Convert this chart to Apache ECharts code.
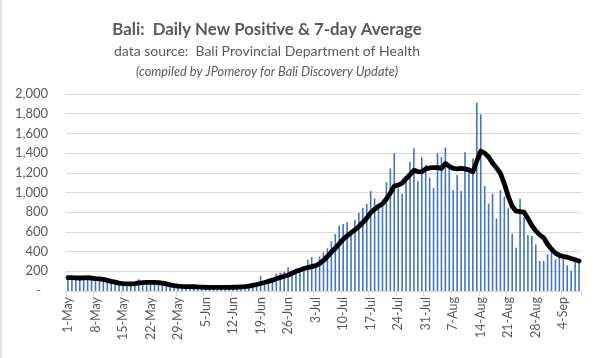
<!DOCTYPE html>
<html>
<head>
<meta charset="utf-8">
<script src="https://cdn.jsdelivr.net/npm/echarts@6/dist/echarts.min.js"></script>
<style>
html,body{margin:0;padding:0;background:#fff;}
#chart{width:599px;height:358px;}
</style>
</head>
<body>
<div id="chart"></div>
<script>
// Category labels: 1-May .. 8-Sep (one per day)
var months = [['May', 31], ['Jun', 30], ['Jul', 31], ['Aug', 31], ['Sep', 8]];
var dates = [];
months.forEach(function (m) { for (var d = 1; d <= m[1]; d++) dates.push(d + '-' + m[0]); });

// Daily new positive cases
var dailyCases = [
  140,128,135,120,145,138,132,118,125,110,95,88,80,70,65,75,70,82,120,85,
  90,80,88,75,65,60,50,48,45,50,42,40,48,38,36,35,40,32,38,45,
  40,36,44,48,50,55,62,75,60,152,95,78,118,179,186,196,240,196,205,215,
  225,315,345,255,350,392,433,505,578,665,680,700,620,720,792,842,883,1015,940,840,
  900,1105,1245,1398,1040,985,1110,1312,1450,1118,1357,1279,1150,1045,1398,1360,1459,1290,1025,1178,
  1015,1408,1250,1345,1912,1794,1066,888,988,735,1025,958,839,582,440,936,750,569,558,475,
  306,306,374,404,321,352,327,260,206,293,293
];

// 7-day average
var avg7 = [
  135,135,134,132,134,135,130,125,123,118,108,98,90,80,74,72,72,76,82,86,
  88,88,87,86,80,72,62,55,50,47,45,44,43,41,40,38,37,36,36,36,
  36,36,38,40,42,44,50,58,66,76,86,98,110,125,138,150,163,180,200,212,
  228,238,248,258,278,310,350,395,433,480,525,560,590,620,655,695,740,795,830,860,
  885,935,995,1065,1075,1095,1140,1180,1225,1212,1210,1240,1250,1252,1252,1245,1295,1265,1245,1240,
  1245,1240,1230,1211,1320,1420,1400,1360,1300,1250,1195,1090,960,860,810,805,800,735,665,610,
  570,540,475,425,385,362,350,343,330,318,305
];

var yTicks = { min: 0, max: 2000, interval: 200 };

var txt = '#595959';
var chart = echarts.init(document.getElementById('chart'), null, { renderer: 'canvas' });
chart.setOption({
  animation: false,
  backgroundColor: '#ffffff',
  title: [
    { text: 'Bali:  Daily New Positive & 7-day Average', left: 262, top: 15, textAlign: 'center',
      textStyle: { fontFamily: 'Lato', fontWeight: 'bold', fontSize: 16.8, lineHeight: 20, color: txt } },
    { text: 'data source:  Bali Provincial Department of Health', left: 262, top: 37, textAlign: 'center',
      textStyle: { fontFamily: 'Lato', fontWeight: 'normal', fontSize: 14, lineHeight: 18, color: txt } },
    { text: '(compiled by JPomeroy for Bali Discovery Update)', left: 262, top: 59, textAlign: 'center',
      textStyle: { fontFamily: 'Lato', fontStyle: 'italic', fontWeight: 'normal', fontSize: 12.8, lineHeight: 16, color: txt } }
  ],
  graphic: [
    { type: 'line', shape: { x1: 1, y1: 0, x2: 1, y2: 358 }, style: { stroke: '#d9d9d9', lineWidth: 1.5 } }
  ],
  grid: { left: 66, right: 18, top: 94, bottom: 67 },
  xAxis: {
    type: 'category',
    data: dates,
    boundaryGap: true,
    axisLine: { lineStyle: { color: '#d9d9d9', width: 1 } },
    axisTick: { show: true, interval: 6, length: 5, lineStyle: { color: '#d9d9d9' } },
    axisLabel: { interval: 6, rotate: 90, margin: 6, color: txt, fontFamily: 'Lato', fontSize: 12.5 },
    splitLine: { show: false }
  },
  yAxis: {
    type: 'value',
    min: yTicks.min, max: yTicks.max, interval: yTicks.interval,
    axisLine: { show: false },
    axisTick: { show: false },
    splitLine: { lineStyle: { color: '#d9d9d9', width: 1 } },
    axisLabel: {
      margin: 18, color: txt, fontFamily: 'Lato', fontSize: 13,
      formatter: function (v) { return v === 0 ? '{d|-}' : v.toLocaleString('en-US'); },
      rich: { d: { color: txt, fontFamily: 'Lato', fontSize: 13, padding: [0, 7, 0, 0] } }
    }
  },
  series: [
    { name: 'Daily New Positive', type: 'bar', data: dailyCases, barWidth: 1.6,
      itemStyle: { color: '#4472C4' } },
    { name: '7-day Average', type: 'line', data: avg7, showSymbol: false, symbol: 'none',
      lineStyle: { color: '#000000', width: 4.8, cap: 'round', join: 'round' }, z: 5 }
  ]
});
</script>
</body>
</html>
